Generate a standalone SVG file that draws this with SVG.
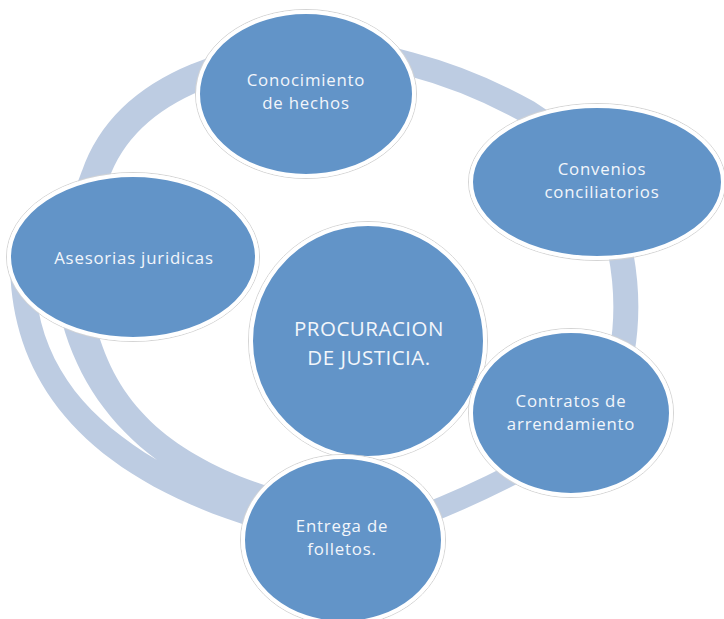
<svg xmlns="http://www.w3.org/2000/svg" width="724" height="619" viewBox="0 0 724 619">
<style>
.band{fill:none;stroke:#BDCCE2;stroke-linecap:butt}
.bandfill{fill:#BDCCE2}
.halo{fill:none;stroke:#D4D4D4;stroke-width:1}
.node{fill:#6294C8;stroke:#FFFFFF;stroke-width:4}
.lbl{font-family:"Open Sans","Noto Sans",sans-serif;font-size:16.8px;letter-spacing:0.8px;fill:#F2F6FB;text-anchor:middle}
.big{font-size:20.5px;letter-spacing:0.5px}
</style>
<rect width="724" height="619" fill="#FFFFFF"/>
<g id="connectors">
<path class="band" stroke-width="28" d="M86,200 L95,176 Q118,109.5 197,77 L218,69"/>
<path class="band" stroke-width="24" d="M395,60 L410,64 Q471,80 528,112 L540,120"/>
<path class="band" stroke-width="25" d="M619,245 Q631,300 622,352"/>
<path class="band" stroke-width="21" d="M420,516 Q470,497 525,468"/>
<path class="bandfill" d="M10,255 C8,370 70,475 268,532 L285,492 C180,460 118,412 96,325 L62,322 C78,380 110,425 157,460 C90,420 45,370 36,295 Z"/>
</g>
<g id="n-procuracion">
<ellipse class="halo" cx="368" cy="341" rx="119.5" ry="119.5"/>
<ellipse class="node" cx="368" cy="341" rx="117" ry="117"/>
<text class="lbl big" x="369" y="336">PROCURACION</text>
<text class="lbl big" x="369" y="365">DE JUSTICIA.</text>
</g>
<g id="n-conocimiento">
<ellipse class="halo" cx="306" cy="94" rx="110.5" ry="84.5"/>
<ellipse class="node" cx="306" cy="94" rx="108" ry="82"/>
<text class="lbl" x="306" y="86">Conocimiento</text>
<text class="lbl" x="306" y="109">de hechos</text>
</g>
<g id="n-convenios">
<ellipse class="halo" cx="597" cy="182" rx="128.5" ry="78.5"/>
<ellipse class="node" cx="597" cy="182" rx="126" ry="76"/>
<text class="lbl" x="602" y="175">Convenios</text>
<text class="lbl" x="602" y="198">conciliatorios</text>
</g>
<g id="n-asesorias">
<ellipse class="halo" cx="133" cy="257" rx="126.5" ry="84.5"/>
<ellipse class="node" cx="133" cy="257" rx="124" ry="82"/>
<text class="lbl" x="134" y="264">Asesorias juridicas</text>
</g>
<g id="n-contratos">
<ellipse class="halo" cx="571" cy="413" rx="102.5" ry="84.5"/>
<ellipse class="node" cx="571" cy="413" rx="100" ry="82"/>
<text class="lbl" x="571" y="407">Contratos de</text>
<text class="lbl" x="571" y="430">arrendamiento</text>
</g>
<g id="n-entrega">
<ellipse class="halo" cx="343" cy="540" rx="102.5" ry="85.5"/>
<ellipse class="node" cx="343" cy="540" rx="100" ry="83"/>
<text class="lbl" x="342" y="532">Entrega de</text>
<text class="lbl" x="342" y="555">folletos.</text>
</g>
</svg>
